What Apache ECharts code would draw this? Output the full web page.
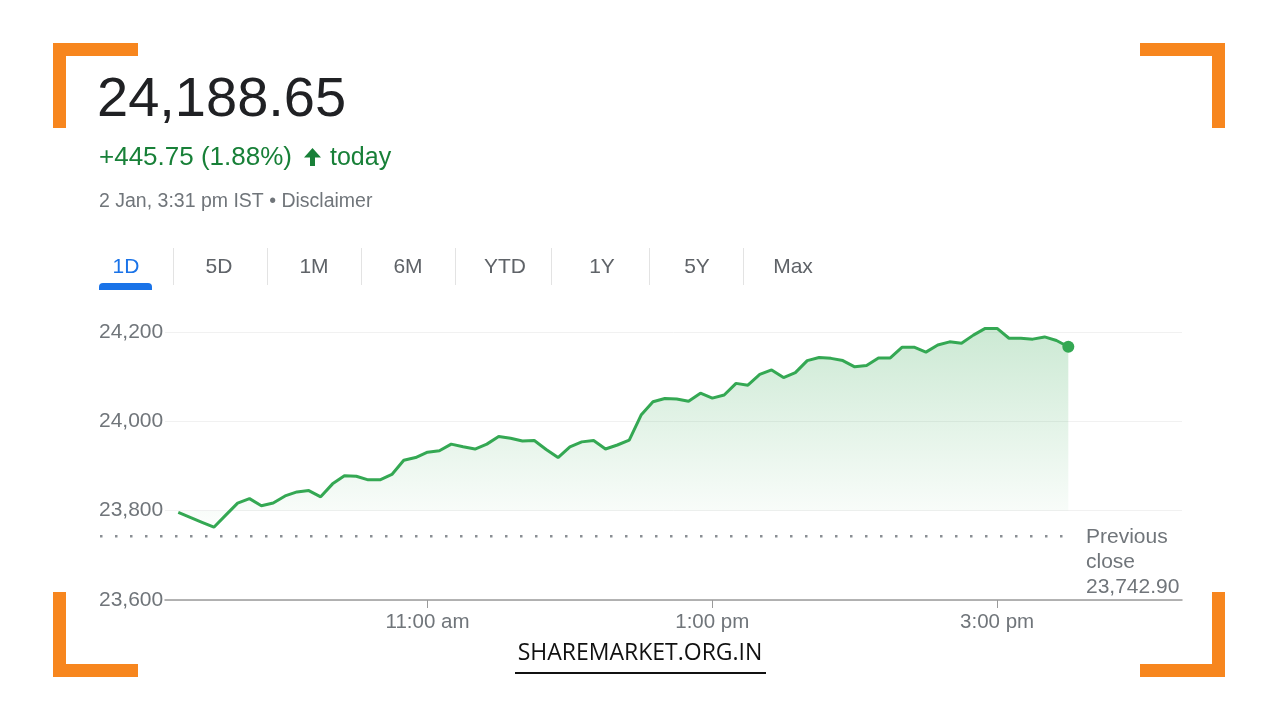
<!DOCTYPE html>
<html><head><meta charset="utf-8">
<script src="https://cdn.jsdelivr.net/npm/echarts@6/dist/echarts.min.js"></script>
<style>html,body{margin:0;padding:0;background:#fff}#c{width:1280px;height:720px}</style>
</head><body><div id="c"></div>
<script>
// ---- data ----
const prices = [
  23796, 23785, 23774, 23763, 23790, 23817, 23827, 23811, 23817, 23833,
  23842, 23845, 23831, 23860, 23878, 23877, 23869, 23869, 23881, 23913,
  23919, 23931, 23934, 23949, 23943, 23938, 23949, 23966, 23962, 23956,
  23957, 23937, 23919, 23943, 23954, 23957, 23938, 23947, 23958, 24014,
  24044, 24051, 24050, 24045, 24063, 24052, 24059, 24085, 24081, 24105,
  24115, 24098, 24109, 24136, 24143, 24141, 24136, 24122, 24125, 24142,
  24142, 24166, 24166, 24155, 24171, 24178, 24175, 24193, 24208, 24208,
  24186, 24186, 24184, 24189, 24181, 24167
];
const startMinute = 555;   // 9:15 am
const stepMinutes = 5;
const times = prices.map((_, i) => startMinute + i * stepMinutes);
const previousClose = 23742.90;
const yTicks = [23600, 23800, 24000, 24200];
const xTickMinutes = [660, 780, 900];
const xTickLabels = ['11:00 am', '1:00 pm', '3:00 pm'];
const tabs = ['1D', '5D', '1M', '6M', 'YTD', '1Y', '5Y', 'Max'];
const headlinePrice = '24,188.65';
const changeText = '+445.75 (1.88%)';
const dateText = '2 Jan, 3:31 pm IST • Disclaimer';
const prevCloseLabel = ['Previous', 'close', '23,742.90'];
const watermark = 'SHAREMARKET.ORG.IN';

// ---- layout / style ----
const FONT = '"Liberation Sans", Arial, sans-serif';
const GRAY = '#70757a';
const GREEN = '#34a853';
const ORANGE = '#f7861e';
const tabX = [126, 219, 314, 408, 505, 602, 697, 793];
const sepX = [173, 267, 361, 455, 551, 649, 743];

const chart = echarts.init(document.getElementById('c'), null, {renderer: 'canvas'});

const graphics = [];
function rect(x, y, w, h, fill) {
  graphics.push({type: 'rect', shape: {x, y, width: w, height: h}, style: {fill}, silent: true});
}
function text(str, x, y, font, fill, align) {
  graphics.push({type: 'text', x, y, silent: true,
    style: {text: str, font, fill, align: align || 'left', verticalAlign: 'middle',
            textAlign: align || 'left', textVerticalAlign: 'middle'}});
}
// corner brackets
rect(53, 43, 85, 13, ORANGE); rect(53, 43, 13, 85, ORANGE);
rect(1140, 43, 85, 13, ORANGE); rect(1212, 43, 13, 85, ORANGE);
rect(53, 592, 13, 85, ORANGE); rect(53, 664, 85, 13, ORANGE);
rect(1212, 592, 13, 85, ORANGE); rect(1140, 664, 85, 13, ORANGE);
// header
text(headlinePrice, 97, 101, '56px ' + FONT, '#202124');
text(changeText, 99, 158, '26px ' + FONT, '#188038');
// up-arrow icon
graphics.push({type: 'polygon', silent: true,
  shape: {points: [[312.5, 148], [321, 157.5], [315, 157.5], [315, 166], [310, 166], [310, 157.5], [304, 157.5]]},
  style: {fill: '#188038'}});
text('today', 330, 158, '25px ' + FONT, '#188038');
text(dateText, 99, 202, '19.5px ' + FONT, GRAY);
// tabs
tabs.forEach((t, i) => text(t, tabX[i], 267, '21px ' + FONT, i === 0 ? '#1a73e8' : '#5f6368', 'center'));
sepX.forEach(x => rect(x, 248, 1, 37, '#e3e3e3'));
graphics.push({type: 'rect', shape: {x: 99, y: 283, width: 53, height: 7, r: [4, 4, 0, 0]},
  style: {fill: '#1a73e8'}, silent: true});
// previous close label
prevCloseLabel.forEach((s, i) => text(s, 1086, 537 + i * 25, '21px ' + FONT, GRAY));
// watermark
text(watermark, 640, 653, '500 23px "Open Sans", sans-serif', '#111', 'center');
rect(515, 672, 251, 2, '#111');

const option = {
  animation: false,
  backgroundColor: '#fff',
  graphic: graphics,
  grid: [
    {left: 165, right: 98, top: 332, bottom: 120},
    {left: 100, right: 208, top: 332, bottom: 120}
  ],
  xAxis: [
    {
      type: 'value', gridIndex: 0, min: 549.4, max: 977.9,
      axisLine: {show: true, lineStyle: {color: '#9a9a9a', width: 1.5}},
      axisTick: {show: true, customValues: xTickMinutes, length: 8, lineStyle: {color: '#9a9a9a', width: 1}},
      axisLabel: {show: true, customValues: xTickMinutes, margin: 12, color: GRAY,
        fontSize: 20.5, fontFamily: FONT,
        formatter: v => xTickLabels[xTickMinutes.indexOf(v)] || ''},
      splitLine: {show: false}
    },
    {type: 'value', gridIndex: 1, min: 0, max: 1, show: false}
  ],
  yAxis: [
    {
      type: 'value', gridIndex: 0, min: yTicks[0], max: yTicks[yTicks.length - 1], interval: 200,
      axisLine: {show: false}, axisTick: {show: false},
      axisLabel: {align: 'left', margin: 66, color: GRAY, fontSize: 21, fontFamily: FONT,
        formatter: v => v.toLocaleString('en-US')},
      splitLine: {show: true, lineStyle: {color: '#f1f1f1', width: 1}}
    },
    {type: 'value', gridIndex: 1, min: yTicks[0], max: yTicks[yTicks.length - 1], show: false}
  ],
  series: [
    {
      type: 'line', xAxisIndex: 1, yAxisIndex: 1, z: 1,
      data: [[0, previousClose], [1, previousClose]],
      showSymbol: false, silent: true,
      lineStyle: {color: '#8a8f94', width: 2.5, type: [2.5, 12.5]}
    },
    {
      type: 'line', xAxisIndex: 0, yAxisIndex: 0, z: 3, clip: false,
      data: times.map((t, i) => [t, prices[i]]),
      showSymbol: false, smooth: false,
      lineStyle: {color: GREEN, width: 3},
      areaStyle: {
        origin: 23800,
        color: new echarts.graphic.LinearGradient(0, 0, 0, 1, [
          {offset: 0, color: 'rgba(52,168,83,0.36)'},
          {offset: 1, color: 'rgba(52,168,83,0.02)'}
        ])
      }
    },
    {
      type: 'scatter', xAxisIndex: 0, yAxisIndex: 0, z: 4,
      data: [[times[times.length - 1], prices[prices.length - 1]]],
      symbol: 'circle', symbolSize: 12, itemStyle: {color: GREEN, opacity: 1}
    }
  ]
};
chart.setOption(option);
</script>
</body></html>
